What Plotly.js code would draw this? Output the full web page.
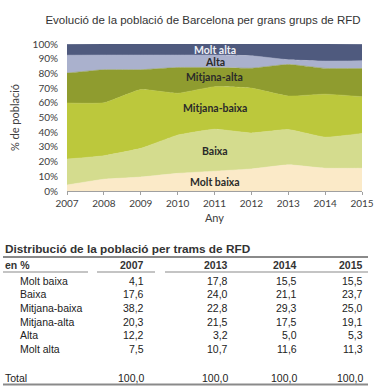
<!DOCTYPE html>
<html>
<head>
<meta charset="utf-8">
<script src="https://cdn.plot.ly/plotly-3.0.1.min.js"></script>
<style>html,body{margin:0;padding:0;background:#fff;}#chart{width:375px;height:387px;}</style>
</head>
<body>
<div id="chart"></div>
<script>
// ---- Area chart data (share of population, %) ----
var years = [2007, 2008, 2009, 2010, 2011, 2012, 2013, 2014, 2015];
var moltBaixa    = [4.1, 8.0, 9.5, 12.0, 13.5, 15.0, 17.8, 15.5, 15.5];
var baixa        = [17.6, 16.0, 19.5, 26.0, 28.5, 24.5, 24.0, 21.1, 23.7];
var mitjanaBaixa = [38.2, 36.0, 40.0, 28.5, 29.0, 30.5, 22.8, 29.3, 25.0];
var mitjanaAlta  = [20.3, 22.5, 13.5, 17.5, 13.0, 13.5, 21.5, 17.5, 19.1];
var alta         = [12.2, 10.0, 10.0, 8.5, 8.5, 8.5, 3.2, 5.0, 5.3];
var moltAlta     = [7.5, 7.5, 7.5, 7.5, 7.5, 8.0, 10.7, 11.6, 11.3];
var seriesNames  = ['Molt baixa', 'Baixa', 'Mitjana-baixa', 'Mitjana-alta', 'Alta', 'Molt alta'];
var labelY       = [6, 27, 56.5, 77.5, 88, 96];

// ---- Table data ----
var tableTitle = 'Distribució de la població per trams de RFD';
var tableUnit  = 'en %';
var tableYears = ['2007', '2013', '2014', '2015'];
var tableRows  = ['Molt baixa', 'Baixa', 'Mitjana-baixa', 'Mitjana-alta', 'Alta', 'Molt alta'];
var t2007 = [4.1, 17.6, 38.2, 20.3, 12.2, 7.5];
var t2013 = [17.8, 24.0, 22.8, 21.5, 3.2, 10.7];
var t2014 = [15.5, 21.1, 29.3, 17.5, 5.0, 11.6];
var t2015 = [15.5, 23.7, 25.0, 19.1, 5.3, 11.3];
var totalLabel = 'Total';
var totals = [100.0, 100.0, 100.0, 100.0];

// ---- styles ----
var W = 375, H = 387;
var fills = ['#fbeac8', '#d4dc8e', '#bcc83c', '#8f9c2f', '#aab1cd', '#4f5a7e'];
var labelColors = ['#2a2a2a', '#2a2a2a', '#2a2a2a', '#2a2a2a', '#2a2a2a', '#eef0f6'];
var px = function (x) { return x / W; };
var py = function (y) { return 1 - y / H; };
var fmt = function (v) { return v.toFixed(1).replace('.', ','); };

var seriesVals = [moltBaixa, baixa, mitjanaBaixa, mitjanaAlta, alta, moltAlta];
var traces = seriesVals.map(function (vals, i) {
  return {
    x: years, y: vals, name: seriesNames[i], type: 'scatter', mode: 'lines',
    stackgroup: 'one', fillcolor: fills[i],
    line: {width: 0.5, color: fills[i], shape: 'spline', smoothing: 0.4},
    hoverinfo: 'skip', showlegend: false
  };
});

var annotations = [];
// band labels
seriesNames.forEach(function (n, i) {
  annotations.push({
    x: 2011, y: labelY[i], xref: 'x', yref: 'y', text: n, showarrow: false,
    font: {family: 'Lato, sans-serif', size: 10.5, color: labelColors[i], weight: 'bold'},
    xanchor: 'center', yanchor: 'middle'
  });
});

// table
var tfont = {family: 'Liberation Sans, Arial, sans-serif', size: 10.5, color: '#222'};
var tbold = {family: 'Liberation Sans, Arial, sans-serif', size: 10.5, color: '#333', weight: 'bold'};
annotations.push({x: px(3), y: py(249), xref: 'paper', yref: 'paper', text: '<b>' + tableTitle + '</b>',
  showarrow: false, xanchor: 'left', yanchor: 'middle',
  font: {family: 'Liberation Sans, Arial, sans-serif', size: 11.8, color: '#333'}});
annotations.push({x: px(3), y: py(265), xref: 'paper', yref: 'paper', text: '<b>' + tableUnit + '</b>',
  showarrow: false, xanchor: 'left', yanchor: 'middle', font: tbold});
var colRight = [146, 230, 299, 365];
var tableCols = [t2007, t2013, t2014, t2015];
tableYears.forEach(function (yr, j) {
  annotations.push({x: px(colRight[j]), y: py(265), xref: 'paper', yref: 'paper', text: '<b>' + yr + '</b>',
    showarrow: false, xanchor: 'right', yanchor: 'middle', font: tbold});
});
var rowTop = 280.5, rowStep = 13.7;
tableRows.forEach(function (r, i) {
  var yy = rowTop + i * rowStep;
  annotations.push({x: px(18), y: py(yy), xref: 'paper', yref: 'paper', text: r,
    showarrow: false, xanchor: 'left', yanchor: 'middle', font: tfont});
  tableCols.forEach(function (col, j) {
    annotations.push({x: px(colRight[j]), y: py(yy), xref: 'paper', yref: 'paper', text: fmt(col[i]),
      showarrow: false, xanchor: 'right', yanchor: 'middle', font: tfont});
  });
});
annotations.push({x: px(3), y: py(378), xref: 'paper', yref: 'paper', text: totalLabel,
  showarrow: false, xanchor: 'left', yanchor: 'middle', font: tfont});
totals.forEach(function (v, j) {
  annotations.push({x: px(colRight[j]), y: py(378), xref: 'paper', yref: 'paper', text: fmt(v),
    showarrow: false, xanchor: 'right', yanchor: 'middle', font: tfont});
});

var lineCol = '#8a8a8a';
var hline = function (x0, x1, y, w) {
  return {type: 'line', xref: 'paper', yref: 'paper', x0: px(x0), x1: px(x1), y0: py(y), y1: py(y),
    line: {color: lineCol, width: w}};
};
var shapes = [
  hline(3, 368, 257, 2),
  hline(3, 88, 272, 1.2),
  hline(97, 155, 272, 1.2),
  hline(165, 368, 272, 1.2),
  hline(3, 368, 384.5, 2)
];

var layout = {
  width: W, height: H,
  margin: {l: 0, r: 0, t: 0, b: 0},
  paper_bgcolor: '#ffffff', plot_bgcolor: '#ffffff',
  title: {text: 'Evolució de la població de Barcelona per grans grups de RFD',
    x: px(203), y: py(20), xref: 'paper', yref: 'paper', xanchor: 'center', yanchor: 'middle',
    font: {family: 'Liberation Sans, Arial, sans-serif', size: 11.5, color: '#333'}},
  xaxis: {
    domain: [px(67), px(362)], range: [2007, 2015], dtick: 1, tick0: 2007,
    showgrid: false, zeroline: false, showline: true, linecolor: '#a0a0a0', linewidth: 1,
    ticks: 'outside', ticklen: 3, tickcolor: '#a0a0a0',
    tickfont: {family: 'Lato, sans-serif', size: 10, color: '#404040'},
    title: {text: 'Any', standoff: 6, font: {family: 'Lato, sans-serif', size: 11, color: '#404040'}},
    fixedrange: true
  },
  yaxis: {
    domain: [py(191), py(44)], range: [0, 100], dtick: 10, ticksuffix: '%',
    showgrid: false, zeroline: false, showline: false, ticks: '',
    ticklabelstandoff: 8,
    tickfont: {family: 'Lato, sans-serif', size: 10, color: '#404040'},
    title: {text: '% de població', standoff: 10, font: {family: 'Lato, sans-serif', size: 11, color: '#404040'}},
    fixedrange: true
  },
  annotations: annotations,
  shapes: shapes,
  showlegend: false
};

Plotly.newPlot('chart', traces, layout, {displayModeBar: false, staticPlot: true});
</script>
</body>
</html>
